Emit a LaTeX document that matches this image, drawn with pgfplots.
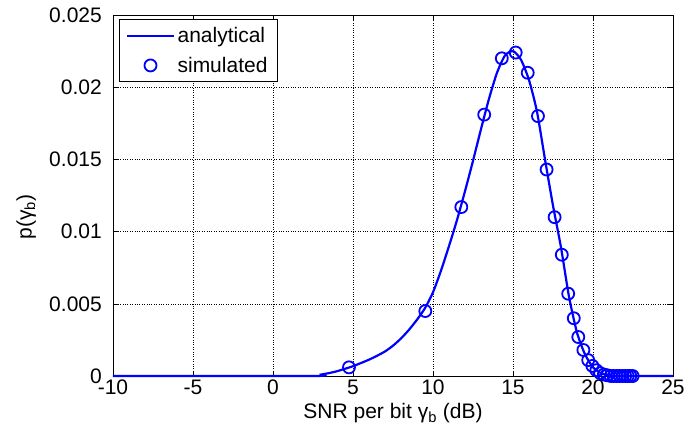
\documentclass[border=0pt]{standalone}
\usepackage{fontspec}
\setmainfont{Liberation Sans}
\usepackage{pgfplots}
\pgfplotsset{compat=1.18}
\definecolor{mblue}{RGB}{0,0,255}
\begin{document}
\begin{tikzpicture}[font=\fontsize{21}{25}\selectfont]
\begin{axis}[
  scale only axis,
  width=560pt, height=361pt,
  xmin=-10, xmax=25, ymin=0, ymax=0.025,
  xtick={-10,-5,0,5,10,15,20,25},
  ytick={0,0.005,0.01,0.015,0.02,0.025},
  yticklabels={0,0.005,0.01,0.015,0.02,0.025},
  scaled y ticks=false,
  /pgf/number format/assume math mode=true,
  tick align=inside,
  major tick length=5pt,
  tick style={black, line width=0.6pt},
  axis line style={black, line width=0.8pt},
  grid=major,
  grid style={black, dotted, line width=0.6pt},
  xticklabel style={inner sep=0pt, yshift=-4pt},
  yticklabel style={inner sep=0pt, xshift=-11pt},
  every axis x label/.style={at={(axis description cs:0.5,-0.119)}, anchor=base},
  every axis y label/.style={at={(axis description cs:-0.155,0.44)}, rotate=90, anchor=center},
  xlabel={SNR per bit γ\textsubscript{b} (dB)},
  ylabel={p(γ\textsubscript{b})},
  clip=false,
  legend cell align=left,
  legend image code/.code={\draw[mark repeat=2,mark phase=2,#1] plot coordinates {(0pt,0pt) (23pt,0pt) (46pt,0pt)};},
  legend style={at={(axis description cs:0.0107,0.989)}, anchor=north west,
    draw=black, line width=0.8pt, inner xsep=7pt, inner ysep=6pt, row sep=9pt,
    nodes={inner xsep=3pt, inner ysep=2pt, line width=0.8pt}},
]
\addplot[mblue, line width=2.2pt, smooth, tension=0.4] coordinates {
  (-10,0) (2.5,0) (3,0.0001) (3.5,0.0002) (4,0.00033) (4.5,0.0005) (5,0.00068)
  (5.5,0.0009) (6,0.00113) (6.5,0.0014) (7,0.0017) (7.5,0.0021) (8,0.0026)
  (8.5,0.0032) (9,0.0039) (9.5,0.0047) (10,0.0058) (10.5,0.0073) (11,0.0090)
  (11.5,0.0108) (12,0.0128) (12.5,0.0149) (13,0.0171) (13.5,0.0192) (14,0.0210)
  (14.5,0.0222) (15,0.0225) (15.5,0.0219) (16,0.0205) (16.5,0.0183) (17,0.0150)
  (17.5,0.0118) (18,0.0089) (18.5,0.0055) (19,0.0030) (19.5,0.0015) (20,0.0006)
  (20.5,0.0002) (21,0.00003) (21.5,0) (25,0)
};
\addlegendentry{analytical}
\addplot[mblue, only marks, mark=o, mark size=6pt, mark options={line width=1.8pt}] coordinates {
  (4.75,0.0006) (9.52,0.0045) (11.77,0.0117) (13.2,0.0181) (14.3,0.0220)
  (15.17,0.0224) (15.92,0.0210) (16.56,0.0180) (17.1,0.0143) (17.6,0.0110)
  (18.05,0.0084) (18.45,0.0057) (18.8,0.0040) (19.08,0.0027) (19.4,0.0018)
  (19.7,0.0011) (19.96,0.0007) (20.21,0.0004) (20.45,0.0002) (20.68,0.0001)
  (20.9,0.00005) (21.11,0) (21.3,0) (21.49,0) (21.67,0) (21.85,0) (22.01,0)
  (22.17,0) (22.33,0) (22.48,0)
};
\addlegendentry{simulated}
\end{axis}
\pgfresetboundingbox
\path[use as bounding box] (-113pt,-64pt) rectangle (575pt,376pt);
\end{tikzpicture}
\end{document}
